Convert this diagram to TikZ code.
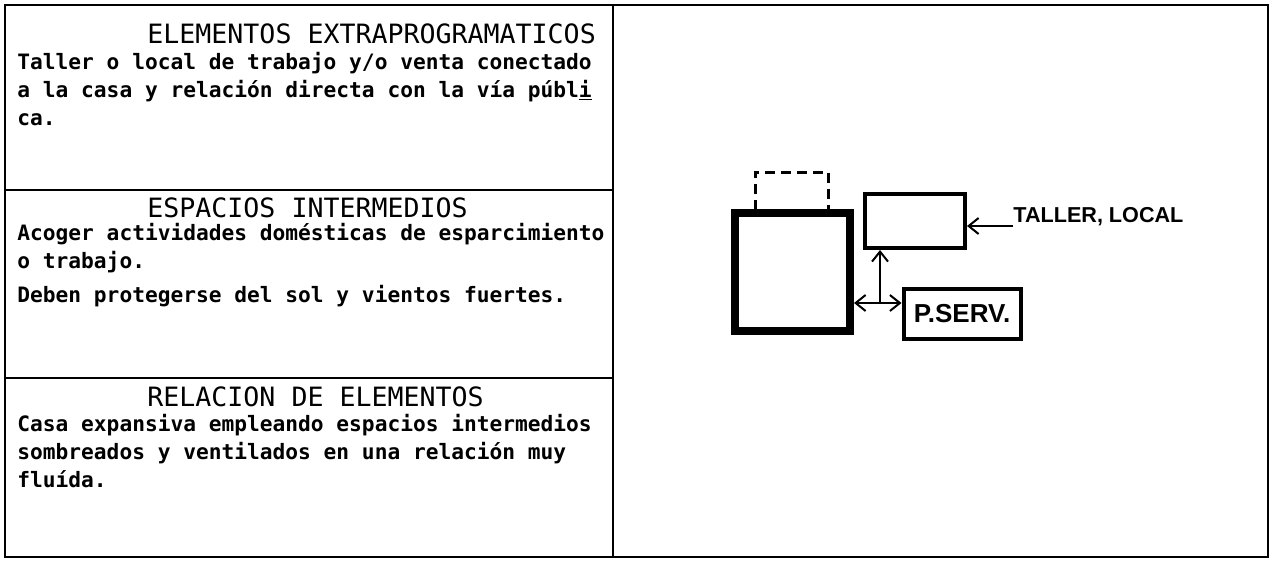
\documentclass[tikz,border=0pt]{standalone}
\usepackage{fontspec}
\setmainfont{Liberation Sans}
\setmonofont{DejaVu Sans Mono}
\usetikzlibrary{arrows.meta}

\begin{document}
\begin{tikzpicture}[x=0.5pt,y=-0.5pt]

    \tikzset{
      head/.style={anchor=base west, inner sep=0pt, font=\fontsize{13.3pt}{16pt}\ttfamily},
      body/.style={anchor=base west, inner sep=0pt, font=\fontsize{10.6pt}{13pt}\ttfamily\bfseries},
      room/.style={draw, line width=2pt, inner sep=0pt},
      barb/.tip={Straight Barb[length=5pt,width=8pt,line width=1pt]},
      link/.style={line width=1pt},
    }
    \useasboundingbox (0,0) rectangle (1272,562);
	\draw[color={black},line width=1.3pt] (5,5) rectangle (1268,557);
	\draw[color={black},line width=1.2pt] (613,5)--(613,557);
	\draw[color={black},line width=1.2pt] (5,190)--(613,190);
	\draw[color={black},line width=1.2pt] (5,378)--(613,378);

	% programa
	\node[head] (titA) at (147,43) {ELEMENTOS EXTRAPROGRAMATICOS};
	\node[body] (txtA1) at (17,69) {Taller o local de trabajo y/o venta conectado};
	\node[body] (txtA2) at (17,97) {a la casa y relación directa con la vía públ\underline{i}};
	\node[body] (txtA3) at (17,125) {ca.};

	\node[head] (titB) at (147,217) {ESPACIOS INTERMEDIOS};
	\node[body] (txtB1) at (17,240) {Acoger actividades domésticas de esparcimiento};
	\node[body] (txtB2) at (17,268) {o trabajo.};
	\node[body] (txtB3) at (17,302) {Deben protegerse del sol y vientos fuertes.};

	\node[head] (titC) at (147,406) {RELACION DE ELEMENTOS};
	\node[body] (txtC1) at (17,431) {Casa expansiva empleando espacios intermedios};
	\node[body] (txtC2) at (17,459) {sombreados y ventilados en una relación muy};
	\node[body] (txtC3) at (17,487) {fluída.};

	% esquema
	\node[room,line width=4pt,minimum width=57.5pt,minimum height=59pt] (casa) at (792.5,272) {};
	\draw[color={black},line width=1.5pt,dash pattern=on 5pt off 3pt] (755,210)--(755,172)--(828,172)--(828,210);
	\node[room,minimum width=50pt,minimum height=27pt] (taller) at (915,221) {};
	\node[room,minimum width=58.5pt,minimum height=25pt,font=\bfseries\fontsize{13pt}{14pt}\selectfont] (pserv) at (962,314) {P.SERV.};
	\node[anchor=south west,inner sep=0pt,font=\bfseries\fontsize{10.8pt}{12pt}\selectfont] (lbl) at (1013,226) {TALLER, LOCAL};

	\coordinate (cruce) at (880,303);
	\draw[link,barb-barb] (casa.east |- cruce)--(pserv.west |- cruce);
	\draw[link,-barb] (cruce)--(taller.south -| cruce);
	\draw[link,-barb] (lbl.south west)--(taller.east |- lbl.south west);

\end{tikzpicture}
\end{document}
